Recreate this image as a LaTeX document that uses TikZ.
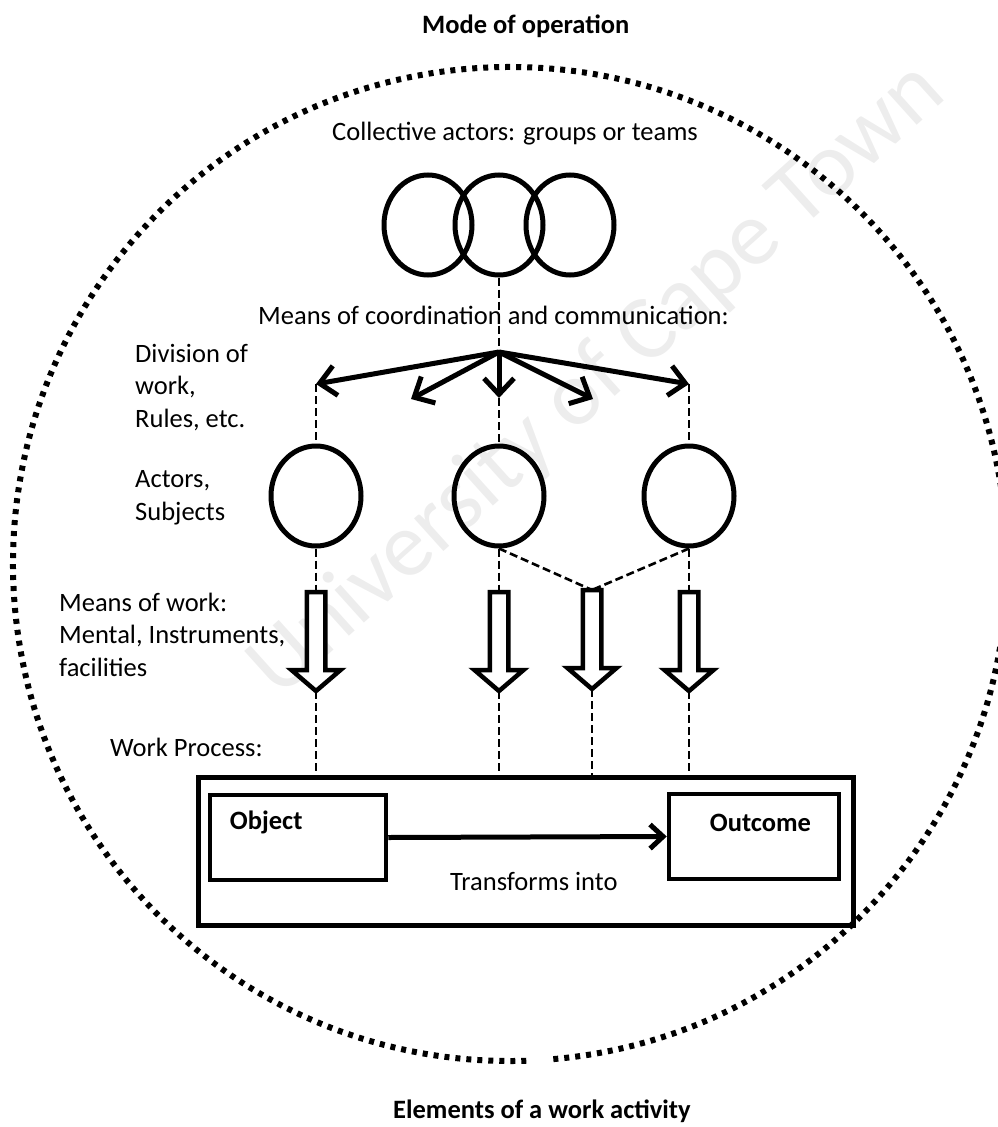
\documentclass[tikz,border=0pt]{standalone}
\usepackage{fontspec}
\setmainfont{Carlito}
\usetikzlibrary{arrows.meta,shapes.geometric}

\tikzset{
  blockarrow/.pic={
    \draw[line width=4.5pt, line join=miter, fill=white]
      (-9.25,0) -- (-9.25,78) -- (-24.5,78) -- (0,99) -- (24.5,78) -- (9.25,78) -- (9.25,0) -- cycle;
    \coordinate (-top) at (0,0);
    \coordinate (-tip) at (0,99);
  }
}

\begin{document}
\begin{tikzpicture}[x=1pt,y=-1pt,
  txt/.style={anchor=base west, inner sep=0pt, align=left,
              font=\fontsize{26.5}{32.5}\selectfont},
  ttl/.style={txt, font=\fontsize{26.5}{32.5}\selectfont\bfseries},
  ring/.style={draw, ellipse, line width=5pt, minimum width=88pt,
               minimum height=100pt, inner sep=0pt},
  actor/.style={draw, ellipse, line width=5pt, minimum width=90pt,
                minimum height=100pt, inner sep=0pt},
  box/.style={draw, rectangle, line width=4.5pt, inner sep=0pt},
  link/.style={line width=2.6pt, dash pattern=on 8pt off 4pt},
  fan/.style={line width=5pt, -{Straight Barb[length=16pt,width=30pt]}},
  flow/.style={line width=5pt, -{Straight Barb[length=13pt,width=24pt]}},
  rim/.style={line width=6pt, dash pattern=on 5pt off 6pt},
  wmark/.style={text=black!7, inner sep=0pt,
               font=\fontsize{92}{92}\selectfont}
]
\useasboundingbox (0,0) rectangle (997,1127);

% watermark
\node[wmark, rotate=42] (wm) at (598,380) {University of Cape Town};

% outer dotted boundary of the activity
\draw[rim] (510,564) ++(85:497) arc[start angle=85, end angle=-272, radius=497];

% headings
\node[ttl] (top) at (422,33) {Mode of operation};
\node[ttl] (bottom) at (393,1118) {Elements of a work activity};

% labels (multi-line labels are placed by the baseline of their last line)
\node[txt] (collective) at (332,140) {Collective actors: groups or teams};
\node[txt] (coord) at (258,324) {Means of coordination and communication:};
\node[txt] (division) at (135,427) {Division of\\work,\\Rules, etc.};
\node[txt] (actors) at (135,520) {Actors,\\Subjects};
\node[txt] (means) at (59,676) {Means of work:\\Mental, Instruments,\\facilities};
\node[txt] (wp) at (110,756) {Work Process:};

% collective actors
\node[ring] (r1) at (428,225) {};
\node[ring] (r2) at (499,225) {};
\node[ring] (r3) at (570,225) {};

% individual actors
\node[actor] (a1) at (316,496) {};
\node[actor] (a2) at (499,496) {};
\node[actor] (a3) at (689,496) {};

% coordination fan
\coordinate (hub) at (499,352);
\coordinate (f1) at (316,384);
\coordinate (f2) at (411,399);
\coordinate (f3) at (499,398);
\coordinate (f4) at (593,399);
\coordinate (f5) at (689,384);

\draw[link] (r2.south) -- (hub);
\foreach \t in {f1,f2,f3,f4,f5} \draw[fan] (hub) -- (\t);
\draw[link] (f1) -- (a1.north);
\draw[link] (f3) -- (a2.north);
\draw[link] (f5) -- (a3.north);

% means of work
\pic (b1) at (316,592) {blockarrow};
\pic (b2) at (499,592) {blockarrow};
\pic (b3) at (592,590) {blockarrow};
\pic (b4) at (689,592) {blockarrow};

\draw[link] (a1.south) -- (b1-top);
\draw[link] (a2.south) -- (b2-top);
\draw[link] (a2.south) -- (b3-top);
\draw[link] (a3.south) -- (b3-top);
\draw[link] (a3.south) -- (b4-top);

% work process
\node[box, line width=5pt, minimum width=655pt, minimum height=148pt] (proc) at (525.5,851) {};
\node[box, minimum width=176pt, minimum height=85pt] (obj) at (298,837.5) {};
\node[box, minimum width=170pt, minimum height=85pt] (out) at (754,836.5) {};
\node[ttl] (objt) at ([shift={(22,37)}]obj.north west) {Object};
\node[ttl] (outt) at ([shift={(43,40)}]out.north west) {Outcome};
\node[txt] (tr) at (450,890) {Transforms into};
\draw[flow] (obj.east) -- (out.west);

\foreach \b in {b1,b2,b3,b4} \draw[link] (\b-tip) -- (\b-tip |- proc.north);
\end{tikzpicture}
\end{document}
